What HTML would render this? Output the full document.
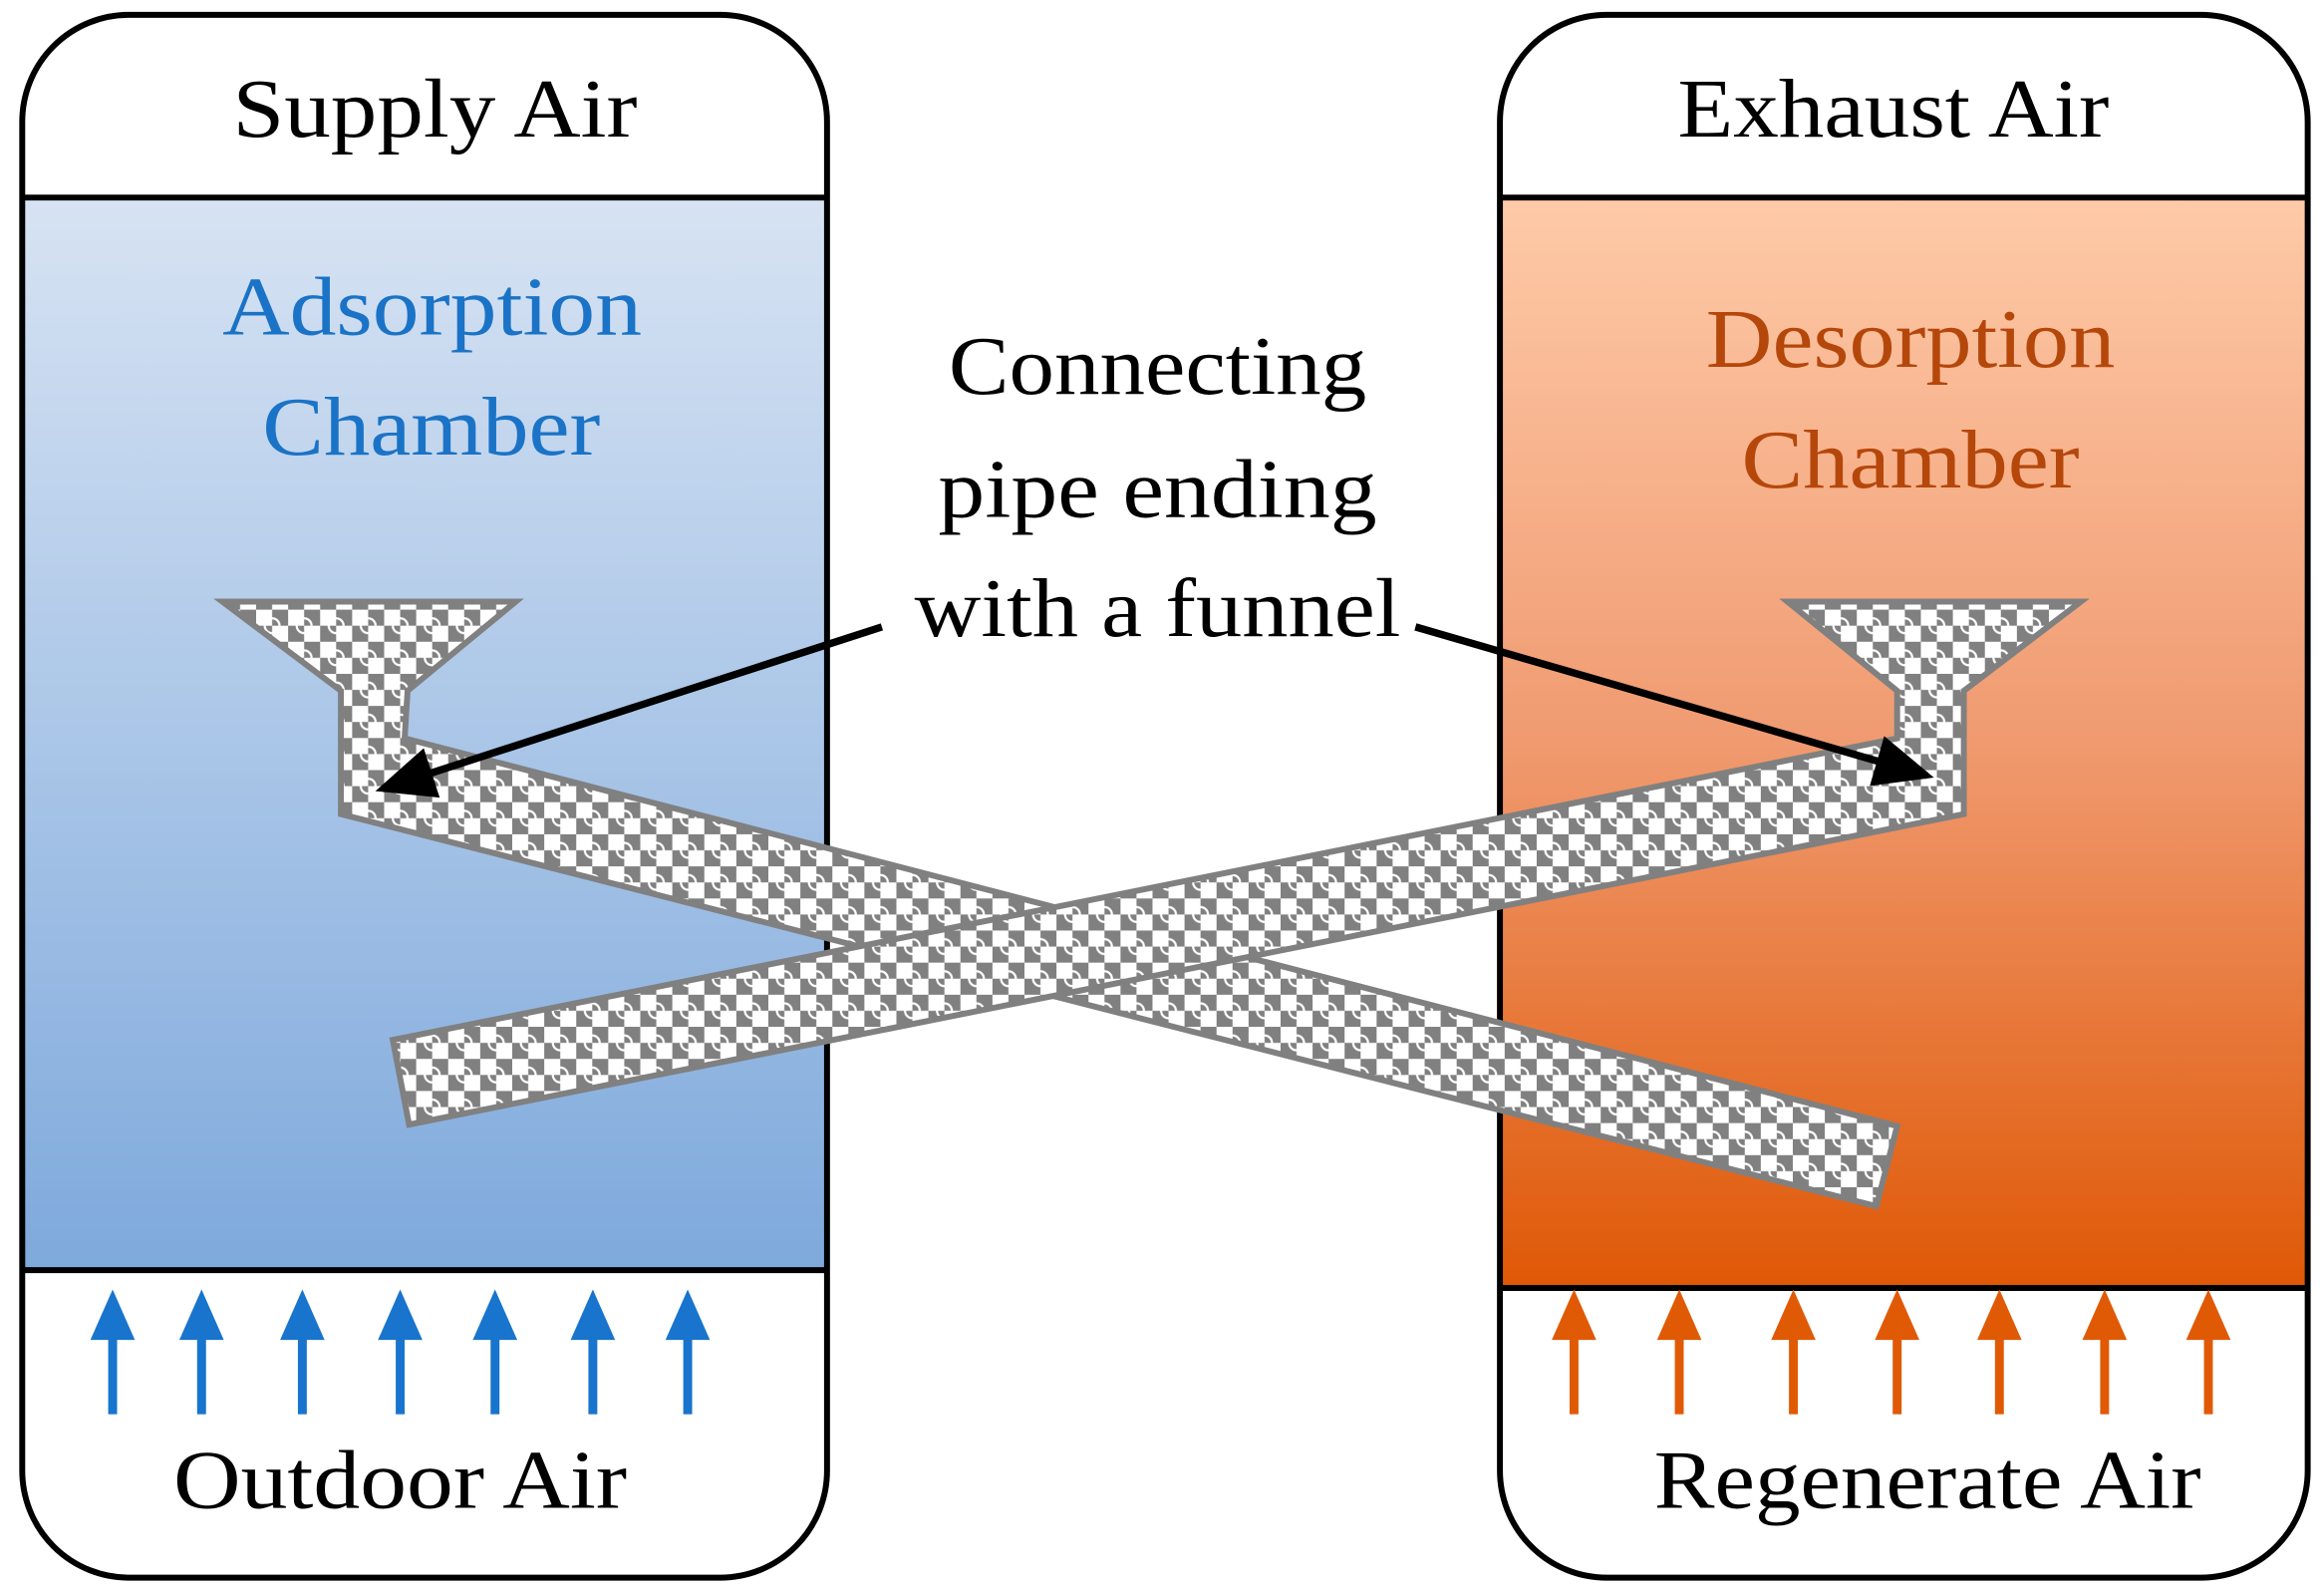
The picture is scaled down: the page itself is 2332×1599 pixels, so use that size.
<!DOCTYPE html>
<html><head><meta charset="utf-8"><style>html,body{margin:0;padding:0;background:#fff}svg{display:block}</style></head>
<body>
<svg width="2332" height="1599" viewBox="0 0 1568 1073" preserveAspectRatio="none" xmlns="http://www.w3.org/2000/svg">
<defs>
<linearGradient id="gb" x1="0" y1="0" x2="0" y2="1"><stop offset="0" stop-color="#d7e3f3"/><stop offset="1" stop-color="#7ea9dc"/></linearGradient>
<linearGradient id="go" x1="0" y1="0" x2="0" y2="1"><stop offset="0" stop-color="#fecaa8"/><stop offset="0.5" stop-color="#f09a70"/><stop offset="1" stop-color="#df5806"/></linearGradient>
<pattern id="ck" width="21.6" height="21.6" patternUnits="userSpaceOnUse">
<rect width="21.6" height="21.6" fill="#808080"/>
<rect x="0" y="0" width="10.8" height="10.8" fill="#fff"/>
<rect x="10.8" y="10.8" width="10.8" height="10.8" fill="#fff"/>
<circle cx="10.8" cy="10.8" r="5" fill="none" stroke="#fff" stroke-width="1.5"/>
</pattern>
<marker id="ah" markerWidth="8" markerHeight="8" refX="7" refY="4" orient="auto" markerUnits="strokeWidth"><path d="M0,0.5 L8,4 L0,7.5 Z" fill="#000"/></marker>
</defs>
<rect x="15" y="133" width="543" height="722" fill="url(#gb)"/>
<rect x="15" y="10" width="543" height="1052" rx="72" fill="none" stroke="#000" stroke-width="4"/>
<line x1="15" y1="133" x2="558" y2="133" stroke="#000" stroke-width="4"/>
<line x1="15" y1="855" x2="558" y2="855" stroke="#000" stroke-width="4"/>
<rect x="1012" y="133" width="545" height="734" fill="url(#go)"/>
<rect x="1012" y="10" width="545" height="1052" rx="72" fill="none" stroke="#000" stroke-width="4"/>
<line x1="1012" y1="133" x2="1557" y2="133" stroke="#000" stroke-width="4"/>
<line x1="1012" y1="867" x2="1557" y2="867" stroke="#000" stroke-width="4"/>
<g font-family="Liberation Serif, serif" font-size="56" lengthAdjust="spacingAndGlyphs">
<text x="157" y="92" textLength="273" lengthAdjust="spacingAndGlyphs">Supply Air</text>
<text x="1132" y="92" textLength="291" lengthAdjust="spacingAndGlyphs">Exhaust Air</text>
<text x="150" y="225" textLength="283" lengthAdjust="spacingAndGlyphs" fill="#1a73c6">Adsorption</text>
<text x="177" y="306" textLength="228" lengthAdjust="spacingAndGlyphs" fill="#1a73c6">Chamber</text>
<text x="1151" y="247" textLength="276" lengthAdjust="spacingAndGlyphs" fill="#b5470b">Desorption</text>
<text x="1175" y="328" textLength="228" lengthAdjust="spacingAndGlyphs" fill="#b5470b">Chamber</text>
<text x="117" y="1015" textLength="306" lengthAdjust="spacingAndGlyphs">Outdoor Air</text>
<text x="1116" y="1015" textLength="369" lengthAdjust="spacingAndGlyphs">Regenerate Air</text>
<text x="640" y="265" textLength="282" lengthAdjust="spacingAndGlyphs">Connecting</text>
<text x="633" y="348" textLength="296" lengthAdjust="spacingAndGlyphs">pipe ending</text>
<text x="617" y="428" textLength="328" lengthAdjust="spacingAndGlyphs">with a funnel</text>
</g>
<polygon points="150,405 348,405 275,465 273,497 1280,758 1266,812 230,548 230,465" fill="url(#ck)" stroke="#808080" stroke-width="4"/>
<polygon points="265,700 1280,497 1280,465 1206,405 1404,405 1325,465 1325,548 276,757" fill="url(#ck)" stroke="#808080" stroke-width="4"/>
<line x1="595" y1="422" x2="258" y2="531" stroke="#000" stroke-width="5" marker-end="url(#ah)"/>
<line x1="955" y1="422" x2="1300" y2="522" stroke="#000" stroke-width="5" marker-end="url(#ah)"/>
<g fill="#1874cd">
<rect x="73" y="900" width="6" height="52"/><path d="M61,902 L76,868 L91,902Z"/>
<rect x="133" y="900" width="6" height="52"/><path d="M121,902 L136,868 L151,902Z"/>
<rect x="201" y="900" width="6" height="52"/><path d="M189,902 L204,868 L219,902Z"/>
<rect x="267" y="900" width="6" height="52"/><path d="M255,902 L270,868 L285,902Z"/>
<rect x="331" y="900" width="6" height="52"/><path d="M319,902 L334,868 L349,902Z"/>
<rect x="397" y="900" width="6" height="52"/><path d="M385,902 L400,868 L415,902Z"/>
<rect x="461" y="900" width="6" height="52"/><path d="M449,902 L464,868 L479,902Z"/>
</g>
<g fill="#e05a06">
<rect x="1059" y="900" width="6" height="52"/><path d="M1047,902 L1062,868 L1077,902Z"/>
<rect x="1130" y="900" width="6" height="52"/><path d="M1118,902 L1133,868 L1148,902Z"/>
<rect x="1207" y="900" width="6" height="52"/><path d="M1195,902 L1210,868 L1225,902Z"/>
<rect x="1277" y="900" width="6" height="52"/><path d="M1265,902 L1280,868 L1295,902Z"/>
<rect x="1346" y="900" width="6" height="52"/><path d="M1334,902 L1349,868 L1364,902Z"/>
<rect x="1417" y="900" width="6" height="52"/><path d="M1405,902 L1420,868 L1435,902Z"/>
<rect x="1487" y="900" width="6" height="52"/><path d="M1475,902 L1490,868 L1505,902Z"/>
</g>
</svg>
</body></html>
